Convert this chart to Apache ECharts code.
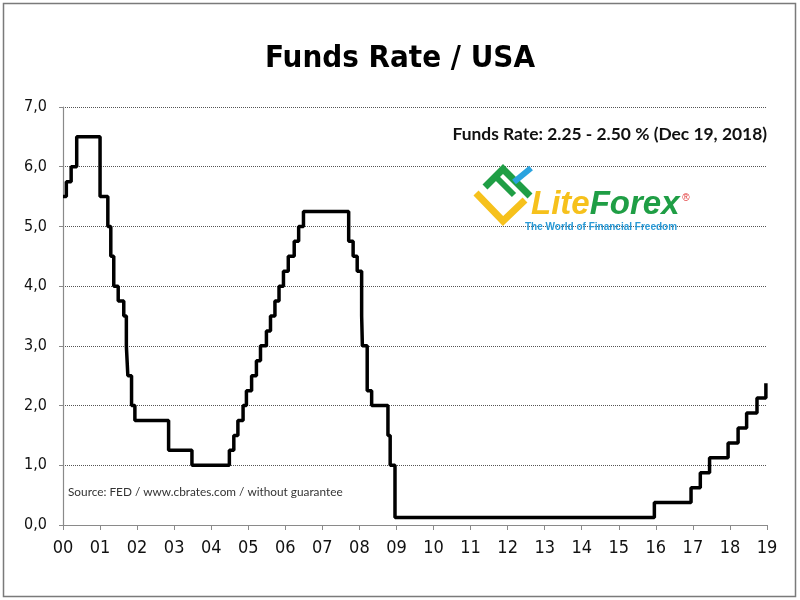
<!DOCTYPE html>
<html>
<head>
<meta charset="utf-8">
<script src="https://cdn.jsdelivr.net/npm/echarts@6/dist/echarts.min.js"></script>
<style>
html,body{margin:0;padding:0;background:#fff;}
#chart{width:800px;height:600px;}
</style>
</head>
<body>
<div id="chart"></div>
<script>
// Change dates as decimal years since 2000 (00 = Jan 2000)
const changeYears = [0.00, 0.09, 0.22, 0.37, 1.00, 1.21, 1.29, 1.37, 1.49, 1.64, 1.71, 1.75, 1.85, 1.94,
  2.85, 3.48, 4.49, 4.61, 4.72, 4.86, 4.95, 5.09, 5.22, 5.33, 5.49, 5.60, 5.72, 5.83, 5.95,
  6.08, 6.24, 6.36, 6.49, 7.71, 7.83, 7.94, 8.06, 8.08, 8.21, 8.33, 8.77, 8.83, 8.96,
  15.96, 16.95, 17.20, 17.45, 17.95, 18.22, 18.45, 18.73, 18.97];
// Rate level (%) from each change date on
const rates = [5.5, 5.75, 6.0, 6.5, 5.5, 5.0, 4.5, 4.0, 3.75, 3.5, 3.0, 2.5, 2.0, 1.75,
  1.25, 1.0, 1.25, 1.5, 1.75, 2.0, 2.25, 2.5, 2.75, 3.0, 3.25, 3.5, 3.75, 4.0, 4.25,
  4.5, 4.75, 5.0, 5.25, 4.75, 4.5, 4.25, 3.5, 3.0, 2.25, 2.0, 1.5, 1.0, 0.125,
  0.375, 0.625, 0.875, 1.125, 1.375, 1.625, 1.875, 2.125, 2.375];
const xTickLabels = ['00','01','02','03','04','05','06','07','08','09','10','11','12','13','14','15','16','17','18','19'];
const yTickLabels = ['0,0','1,0','2,0','3,0','4,0','5,0','6,0','7,0'];

const titleText = 'Funds Rate / USA';
const noteText = 'Funds Rate: 2.25 - 2.50 % (Dec 19, 2018)';
const sourceText = 'Source: FED / www.cbrates.com / without guarantee';

const seriesData = changeYears.map((x, i) => [x, rates[i]]);

const chart = echarts.init(document.getElementById('chart'), null, {renderer: 'canvas'});
const condensed = '"DejaVu Sans Condensed", "DejaVu Sans", sans-serif';

chart.setOption({
  animation: false,
  backgroundColor: '#ffffff',
  title: {
    text: titleText,
    left: 'center',
    top: 38,
    textStyle: {fontFamily: condensed, fontWeight: 'bold', fontSize: 31, color: '#000'}
  },
  grid: {left: 63, right: 33, top: 107, bottom: 75, containLabel: false},
  xAxis: {
    type: 'value', min: 0, max: 19, interval: 1,
    axisLine: {show: true, lineStyle: {color: '#8a8a8a', width: 1.2}},
    axisTick: {show: true, length: 5, lineStyle: {color: '#8a8a8a'}},
    splitLine: {show: false},
    axisLabel: {
      margin: 14, fontFamily: condensed, fontSize: 18, color: '#111',
      formatter: v => xTickLabels[Math.round(v)]
    }
  },
  yAxis: {
    type: 'value', min: 0, max: 7, interval: 1,
    axisLine: {show: true, lineStyle: {color: '#8a8a8a', width: 1.2}},
    axisTick: {show: true, length: 4, lineStyle: {color: '#8a8a8a'}},
    splitLine: {show: true, lineStyle: {color: '#555', type: 'dotted', width: 1}},
    axisLabel: {
      margin: 16, fontFamily: condensed, fontSize: 16, color: '#111',
      formatter: v => yTickLabels[Math.round(v)]
    }
  },
  series: [{
    type: 'line',
    step: 'end',
    data: seriesData,
    showSymbol: false,
    lineStyle: {color: '#000', width: 3.5},
    z: 5
  }],
  graphic: [
    {type: 'rect', shape: {x: 3.5, y: 3.5, width: 792, height: 593}, style: {fill: 'none', stroke: '#7a7a7a', lineWidth: 1.5}, silent: true},
    {type: 'text', x: 767, y: 134, style: {text: noteText, align: 'right', verticalAlign: 'middle', font: 'bold 17.4px Lato, "Open Sans", sans-serif', fill: '#111'}, z: 10},
    {type: 'text', x: 68, y: 492, style: {text: sourceText, align: 'left', verticalAlign: 'middle', font: '11.8px Lato, "Open Sans", sans-serif', fill: '#333'}, z: 10},
    // Logo
    {type: 'polyline', shape: {points: [[476, 193], [503, 221], [525, 200]]}, style: {stroke: '#f6c11c', lineWidth: 7, fill: 'none'}, z: 10},
    {type: 'polyline', shape: {points: [[485, 187], [503, 169], [530, 196]]}, style: {stroke: '#1f9e45', lineWidth: 7, fill: 'none'}, z: 11},
    {type: 'polyline', shape: {points: [[497, 178], [514, 195]]}, style: {stroke: '#1f9e45', lineWidth: 6, fill: 'none'}, z: 11},
    {type: 'polyline', shape: {points: [[514, 182], [531, 168]]}, style: {stroke: '#2aa3df', lineWidth: 6, fill: 'none'}, z: 11},
    {type: 'text', x: 531, y: 205, style: {
      text: '{a|Lite}{b|Forex}', align: 'left', verticalAlign: 'middle',
      rich: {
        a: {fontFamily: '"Liberation Sans", Arial, sans-serif', fontWeight: 'bold', fontStyle: 'italic', fontSize: 33, fill: '#f6c11c', color: '#f6c11c'},
        b: {fontFamily: '"Liberation Sans", Arial, sans-serif', fontWeight: 'bold', fontStyle: 'italic', fontSize: 33, fill: '#1f9e45', color: '#1f9e45'}
      }
    }, z: 11},
    {type: 'text', x: 686, y: 198, style: {text: '®', align: 'center', verticalAlign: 'middle', font: '10px "Liberation Sans", sans-serif', fill: '#e03030'}, z: 11},
    {type: 'text', x: 525, y: 227, style: {text: 'The World of Financial Freedom', align: 'left', verticalAlign: 'middle', font: 'bold 10px "Liberation Sans", Arial, sans-serif', fill: '#2a9ad6'}, z: 11}
  ]
});
</script>
</body>
</html>
